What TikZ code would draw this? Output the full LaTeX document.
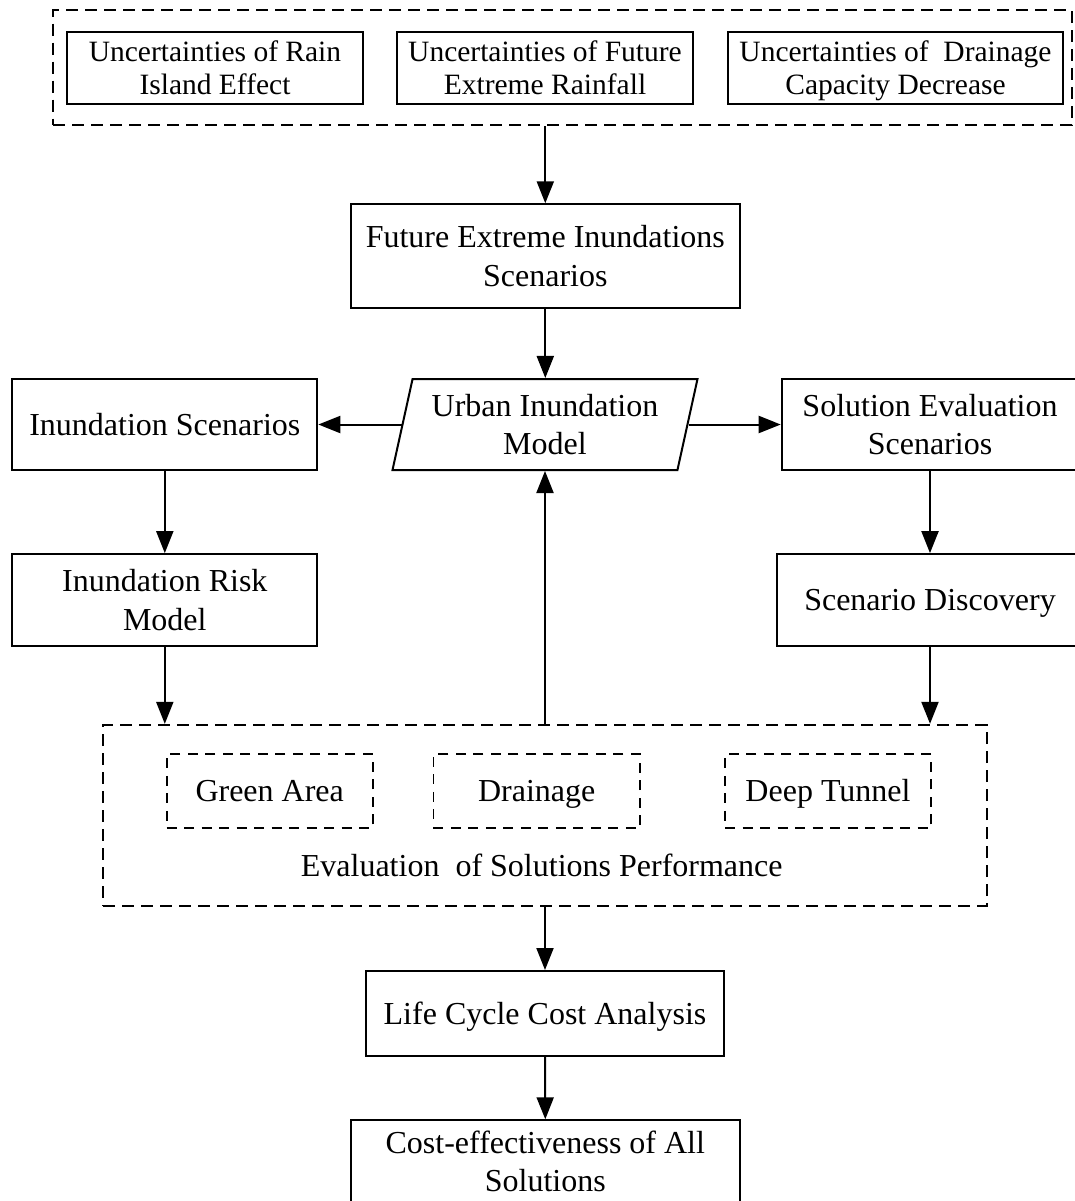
\documentclass[tikz,border=0pt]{standalone}
\usepackage{fontspec}
\setmainfont{Liberation Serif}
\usetikzlibrary{arrows.meta,shapes.geometric}
\begin{document}
\begin{tikzpicture}[x=1pt,y=-1pt,
  box/.style={draw,line width=2pt,rectangle,align=center,inner sep=0pt,font=\fontsize{32}{38.5}\selectfont},
  topbox/.style={box,font=\fontsize{29.5}{33.3}\selectfont},
  one/.style={text height=21pt,text depth=0pt},
  grp/.style={draw,line width=2.2pt,dash pattern=on 12pt off 7pt,rectangle,inner sep=0pt},
  sol/.style={draw,line width=1.7pt,dash pattern=on 10pt off 7.5pt,rectangle,inner sep=0pt,font=\fontsize{32}{38.5}\selectfont,one},
  arr/.style={line width=2pt,-{Triangle[length=22pt,width=17pt]}},
]
\useasboundingbox (0,0) rectangle (1075,1201);
\clip (0,0) rectangle (1075,1201);

% top group of uncertainties
\node[grp,minimum width=1018.7pt,minimum height=115pt] (top) at (562.7,67.5) {};
\node[topbox,minimum width=296.6pt,minimum height=72.6pt] (u1) at (215,68) {Uncertainties of Rain\\Island Effect};
\node[topbox,minimum width=296.6pt,minimum height=72.6pt] (u2) at (545,68) {Uncertainties of Future\\Extreme Rainfall};
\node[topbox,minimum width=335.6pt,minimum height=72.6pt] (u3) at (895.5,68) {\rule{0pt}{27pt}Uncertainties of\ \ Drainage\\Capacity Decrease};

\node[box,minimum width=389.3pt,minimum height=104pt] (fut) at (545.3,256.3) {Future Extreme Inundations\\Scenarios};

\node[box,shape=trapezium,trapezium left angle=71.8,trapezium right angle=108.2,
      trapezium stretches body,minimum width=305pt,minimum height=91pt] (um) at (545,424.5) {Urban Inundation\\Model};

\node[box,one,minimum width=305pt,minimum height=91pt] (isc) at (164.8,424.5) {Inundation Scenarios};
\node[box,minimum width=305pt,minimum height=91.7pt] (irm) at (164.8,600) {Inundation Risk\\Model};
\node[box,minimum width=296.6pt,minimum height=91pt] (sev) at (930,424.5) {Solution Evaluation\\Scenarios};
\node[box,one,minimum width=305.4pt,minimum height=91.7pt] (sd) at (930,600) {Scenario Discovery};

% evaluation group
\node[grp,minimum width=883.4pt,minimum height=180.7pt] (eval) at (545,815.3) {};
\node[sol,minimum width=206pt,minimum height=74pt] (ga) at (269.7,791.3) {Green Area};
\node[sol,minimum width=206.7pt,minimum height=74pt] (dr) at (536.7,791.3) {Drainage};
\node[sol,minimum width=206pt,minimum height=74pt] (dt) at (828,791.3) {Deep Tunnel};
\node[font=\fontsize{32}{38.5}\selectfont,anchor=base,inner sep=0pt] (evl) at (541.7,876.7) {Evaluation\ \ of Solutions Performance};

\node[box,one,minimum width=358.6pt,minimum height=85pt] (lcc) at (545,1013.5) {Life Cycle Cost Analysis};
\node[box,minimum width=389.3pt,anchor=north,inner ysep=10.4pt] (ce) at (545.3,1119.3) {Cost-effectiveness of All\\Solutions\rule[-30pt]{0pt}{30pt}};

% connectors
\draw[arr] (top.south -| fut.north) -- (fut.north);
\draw[arr] (fut.south) -- (fut.south |- um.north);
\draw[arr] (um.left side) -- (isc.east);
\draw[arr] (um.right side) -- (sev.west);
\draw[arr] (isc.south) -- (irm.north);
\draw[arr] (sev.south) -- (sd.north);
\draw[arr] (irm.south) -- (irm.south |- eval.north);
\draw[arr] (sd.south) -- (sd.south |- eval.north);
\draw[arr] (eval.north) -- (eval.north |- um.south);
\draw[arr] (eval.south) -- (lcc.north);
\draw[arr] (lcc.south) -- (ce.north);
\end{tikzpicture}
\end{document}
